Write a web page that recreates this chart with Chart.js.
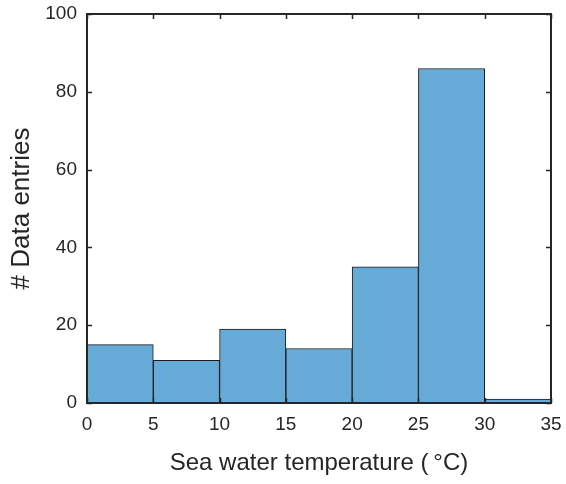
<!DOCTYPE html>
<html>
<head>
<meta charset="utf-8">
<script src="https://cdn.jsdelivr.net/npm/chart.js@4.4.0/dist/chart.umd.min.js"></script>
<style>
  html, body { margin: 0; padding: 0; background: #fff; }
  #wrap { width: 566px; height: 484px; }
</style>
</head>
<body>
<div id="wrap"><canvas id="myChart"></canvas></div>
<script>
// histogram bins (sea water temperature, °C)
const binCenters = [2.5, 7.5, 12.5, 17.5, 22.5, 27.5, 32.5]
const counts = [15, 11, 19, 14, 35, 86, 1]
const xTicks = [0, 5, 10, 15, 20, 25, 30, 35]
const yTicks = [0, 20, 40, 60, 80, 100]

const axisColor = '#262626'
const font = 'Liberation Sans, Arial, Helvetica, sans-serif'

// MATLAB-like box with inward ticks
const boxPlugin = {
  id: 'boxTicks',
  afterDatasetsDraw(chart) {
    const { ctx, chartArea: a, scales } = chart
    ctx.save()
    ctx.strokeStyle = axisColor
    ctx.lineWidth = 1.5
    ctx.beginPath()
    xTicks.forEach(v => {
      const px = Math.round(scales.x.getPixelForValue(v)) + 0.5
      ctx.moveTo(px, a.bottom); ctx.lineTo(px, a.bottom - 5)
      ctx.moveTo(px, a.top); ctx.lineTo(px, a.top + 5)
    })
    yTicks.forEach(v => {
      const py = Math.round(scales.y.getPixelForValue(v)) + 0.5
      ctx.moveTo(a.left, py); ctx.lineTo(a.left + 5, py)
      ctx.moveTo(a.right, py); ctx.lineTo(a.right - 5, py)
    })
    ctx.stroke()
    ctx.lineWidth = 2
    ctx.strokeRect(a.left, a.top, a.right - a.left, a.bottom - a.top)
    ctx.restore()
  }
}

const ctx = document.getElementById('myChart')

new Chart(ctx, {
  type: 'bar',
  data: {
    datasets: [{
      label: '# Data entries',
      data: binCenters.map((x, i) => ({ x: x, y: counts[i] })),
      backgroundColor: '#66aad7',
      borderColor: '#1a1a1a',
      borderWidth: 1,
      barPercentage: 1,
      categoryPercentage: 1
    }]
  },
  options: {
    responsive: true,
    maintainAspectRatio: false,
    animation: false,
    layout: { padding: { top: 14, right: 15, left: 0, bottom: 0 } },
    plugins: { legend: { display: false }, tooltip: { enabled: false } },
    scales: {
      x: {
        type: 'linear',
        min: 0,
        max: 35,
        offset: false,
        grid: { display: false, drawTicks: false },
        border: { display: false },
        afterBuildTicks: s => { s.ticks = xTicks.map(v => ({ value: v })) },
        afterFit: s => { s.height = 81; s.paddingLeft = 0; s.paddingRight = 0 },
        ticks: { color: axisColor, font: { family: font, size: 19 }, padding: 10, maxRotation: 0 },
        title: {
          display: true,
          text: 'Sea water temperature (\u2009\u00B0C)',
          color: axisColor,
          font: { family: font, size: 24 },
          padding: { top: 8, bottom: 6 }
        }
      },
      y: {
        min: 0,
        max: 100,
        grid: { display: false, drawTicks: false },
        border: { display: false },
        afterBuildTicks: s => { s.ticks = yTicks.map(v => ({ value: v })) },
        afterFit: s => { s.width = 87; s.paddingTop = 0; s.paddingBottom = 0 },
        ticks: { color: axisColor, font: { family: font, size: 19 }, padding: 10 },
        title: {
          display: true,
          text: '# Data entries',
          color: axisColor,
          font: { family: font, size: 26 },
          padding: { top: 6, bottom: 4 }
        }
      }
    }
  },
  plugins: [boxPlugin]
})
</script>
</body>
</html>
